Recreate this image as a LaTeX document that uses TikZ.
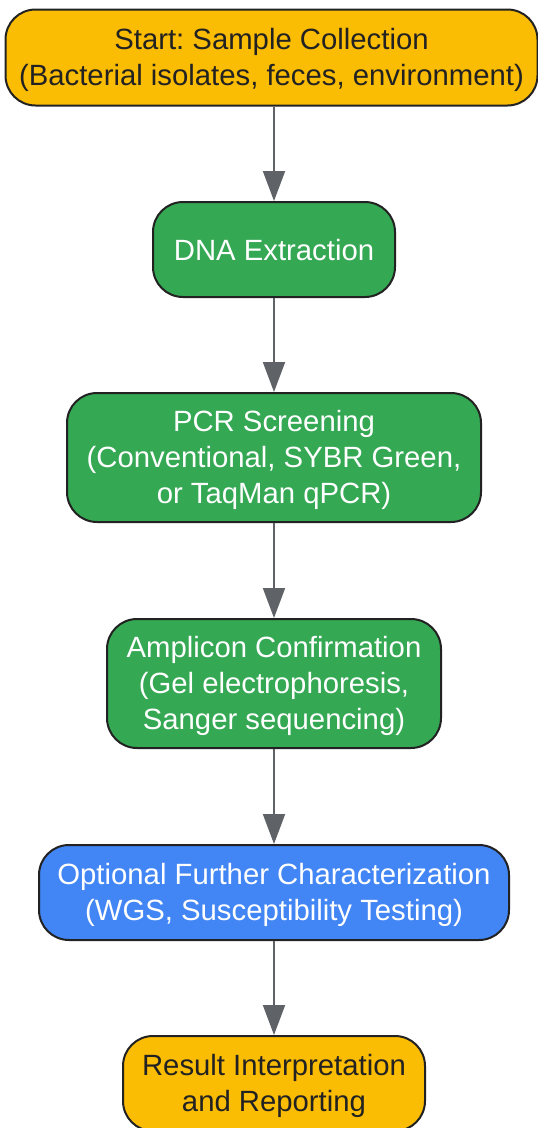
\documentclass[tikz,border=0pt]{standalone}
\usepackage{fontspec}
\setmainfont{Liberation Sans}
\usetikzlibrary{arrows.meta}
\frenchspacing
\definecolor{yel}{HTML}{FBBC04}
\definecolor{grn}{HTML}{34A853}
\definecolor{blu}{HTML}{4285F4}
\definecolor{edge}{HTML}{222222}
\definecolor{arr}{HTML}{5F6368}
\newcommand\topst{\rule{0pt}{27pt}}
\newcommand\botst{\rule[-6pt]{0pt}{6pt}}
\tikzset{
  box/.style={draw=edge, line width=2pt, rounded corners=30pt, align=center,
    inner sep=0pt, font=\fontsize{29.3}{36}\selectfont},
  ybox/.style={box, fill=yel, text=edge},
  gbox/.style={box, fill=grn, text=white},
  bbox/.style={box, fill=blu, text=white},
  conn/.style={draw=arr, line width=2pt, -{Triangle[length=30pt,width=22pt]}}
}
\begin{document}
\begin{tikzpicture}[x=1pt,y=-1pt]
\useasboundingbox (0,0) rectangle (538,1128);
\node[ybox, minimum width=532pt, minimum height=96pt] (n1) at (271.5,57.5) {\topst Start: Sample Collection\\(Bacterial isolates, feces, environment)\botst};
\node[gbox, minimum width=242pt, minimum height=95pt] (n2) at (274,249.5) {\topst DNA Extraction\botst};
\node[gbox, minimum width=414pt, minimum height=129pt] (n3) at (274,457.5) {\topst PCR Screening\\(Conventional, SYBR Green,\\or TaqMan qPCR)\botst};
\node[gbox, minimum width=334pt, minimum height=129pt] (n4) at (274,683.5) {\topst Amplicon Confirmation\\(Gel electrophoresis,\\Sanger sequencing)\botst};
\node[bbox, minimum width=470pt, minimum height=95pt] (n5) at (274,892.5) {\topst Optional Further Characterization\\(WGS, Susceptibility Testing)\botst};
\node[ybox, minimum width=302pt, minimum height=95pt] (n6) at (274,1083.5) {\topst Result Interpretation\\and Reporting\botst};
\draw[conn] (n1.south -| n2.north) -- (n2.north);
\draw[conn] (n2.south) -- (n3.north);
\draw[conn] (n3.south) -- (n4.north);
\draw[conn] (n4.south) -- (n5.north);
\draw[conn] (n5.south) -- (n6.north);
\end{tikzpicture}
\end{document}
